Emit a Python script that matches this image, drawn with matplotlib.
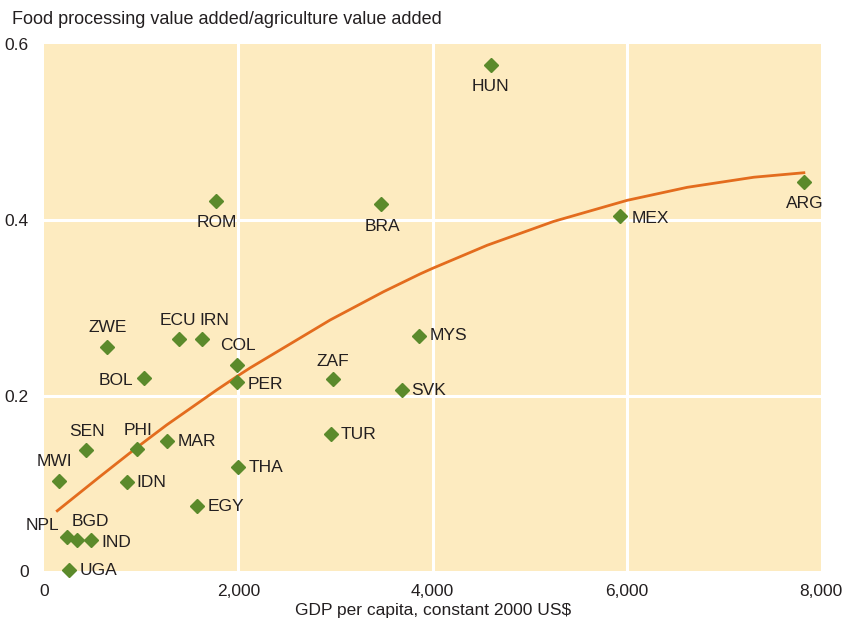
import matplotlib
matplotlib.use("Agg")
import matplotlib.pyplot as plt

plt.rcParams['font.family'] = ['Liberation Sans', 'DejaVu Sans']

# country data: GDP per capita (constant 2000 US$) and food processing / agriculture value added
countries = ['HUN', 'ARG', 'MEX', 'ROM', 'BRA', 'MYS', 'SVK', 'ZAF', 'TUR', 'ECU',
             'IRN', 'COL', 'PER', 'ZWE', 'BOL', 'SEN', 'PHI', 'MAR', 'MWI', 'IDN',
             'THA', 'EGY', 'NPL', 'BGD', 'IND', 'UGA']
gdp = [4600, 7830, 5930, 1770, 3470, 3860, 3680, 2970, 2950, 1390,
       1620, 1990, 1990, 650, 1030, 430, 960, 1260, 150, 850,
       2000, 1570, 230, 340, 480, 250]
ratio = [0.576, 0.443, 0.404, 0.422, 0.418, 0.268, 0.206, 0.219, 0.156, 0.265,
         0.264, 0.235, 0.216, 0.256, 0.220, 0.138, 0.139, 0.148, 0.103, 0.102,
         0.119, 0.075, 0.039, 0.036, 0.036, 0.002]

# fitted trend line
trend_x = [134, 574, 953, 1262, 1433, 1777, 2000, 2121, 2945, 3495, 3873, 4000,
           4561, 5247, 6004, 6623, 7309, 7824]
trend_y = [0.069, 0.108, 0.141, 0.1668, 0.180, 0.2066, 0.2231, 0.2317, 0.2862, 0.3184,
           0.3387, 0.345, 0.3712, 0.3984, 0.4224, 0.4372, 0.4487, 0.4538]

xticks = [0, 2000, 4000, 6000, 8000]
xtick_labels = ['0', '2,000', '4,000', '6,000', '8,000']
yticks = [0, 0.2, 0.4, 0.6]
ytick_labels = ['0', '0.2', '0.4', '0.6']

# label placement: (dx, dy in pixels, horizontal alignment)
label_pos = {
    'HUN': (0, -21, 'center'), 'ARG': (0, -21, 'center'), 'MEX': (12, -2, 'left'),
    'ROM': (1, -22, 'center'), 'BRA': (1, -22, 'center'), 'MYS': (11, 0, 'left'),
    'SVK': (10, 0, 'left'), 'ZAF': (0, 18, 'center'), 'TUR': (10, 0, 'left'),
    'ECU': (-1, 18, 'center'), 'IRN': (13, 19, 'center'), 'COL': (0, 19, 'center'),
    'PER': (10, -3, 'left'), 'ZWE': (0, 19, 'center'), 'BOL': (-11, -2, 'right'),
    'SEN': (1, 19, 'center'), 'PHI': (1, 19, 'center'), 'MAR': (11, 0, 'left'),
    'MWI': (-4, 19, 'center'), 'IDN': (10, -1, 'left'), 'THA': (10, -1, 'left'),
    'EGY': (11, -1, 'left'), 'NPL': (-7, 12, 'right'), 'BGD': (13, 18, 'center'),
    'IND': (11, -3, 'left'), 'UGA': (11, -1, 'left'),
}

text_color = '#231F20'
fs = 12.5

fig = plt.figure(figsize=(8.51, 6.23), dpi=100)
ax = fig.add_axes([0.052, 0.0828, 0.9127, 0.8461])
ax.set_facecolor('#FDEBC0')

ax.set_xlim(0, 8000)
ax.set_ylim(0, 0.6)
ax.set_xticks(xticks)
ax.set_xticklabels(xtick_labels)
ax.set_yticks(yticks)
ax.set_yticklabels(ytick_labels)
ax.tick_params(length=0, labelsize=fs, colors=text_color, pad=9)
ax.tick_params(axis='y', pad=11)
for s in ax.spines.values():
    s.set_visible(False)

for gx in xticks[1:-1]:
    ax.axvline(gx, color='white', lw=2.2, zorder=1)
for gy in yticks[1:-1]:
    ax.axhline(gy, color='white', lw=2.2, zorder=1)

ax.plot(trend_x, trend_y, color='#E36C1E', lw=2, zorder=2, solid_joinstyle='round')
ax.plot(gdp, ratio, linestyle='none', marker='D', markersize=7,
        color='#5B8A2B', zorder=3, clip_on=False)

for name, x, y in zip(countries, gdp, ratio):
    dx, dy, ha = label_pos[name]
    ax.annotate(name, (x, y), xytext=(dx, dy), textcoords='offset pixels',
                ha=ha, va='center', fontsize=fs, color=text_color, zorder=4)

ax.set_xlabel('GDP per capita, constant 2000 US$', fontsize=fs, color=text_color, labelpad=3)
fig.text(12 / 851, 1 - 20 / 623, 'Food processing value added/agriculture value added',
         fontsize=fs + 0.5, color=text_color, ha='left', va='center')

fig.savefig('out.png', dpi=100)
